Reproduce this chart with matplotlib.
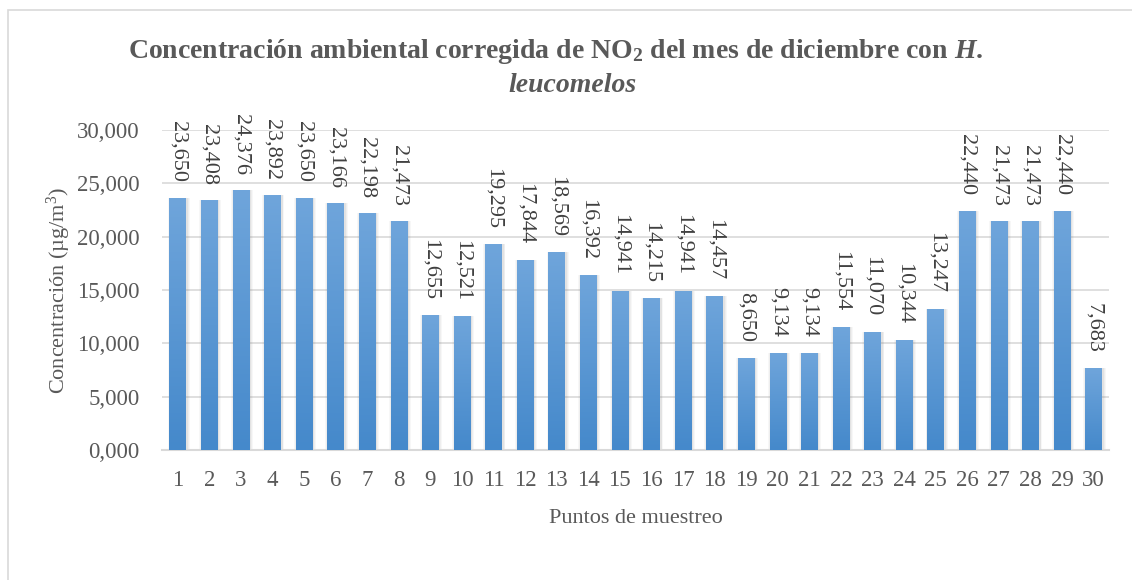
import numpy as np
import matplotlib.pyplot as plt
from matplotlib.colors import LinearSegmentedColormap
from matplotlib.patches import Rectangle

plt.rcParams['font.family'] = ['Liberation Serif', 'DejaVu Serif']
plt.rcParams['mathtext.fontset'] = 'custom'
plt.rcParams['mathtext.rm'] = 'Liberation Serif:bold'
plt.rcParams['mathtext.it'] = 'Liberation Serif:bold:italic'
plt.rcParams['mathtext.bf'] = 'Liberation Serif:bold'

puntos = [str(i) for i in range(1, 31)]
concentracion = [23.650, 23.408, 24.376, 23.892, 23.650, 23.166, 22.198, 21.473,
                 12.655, 12.521, 19.295, 17.844, 18.569, 16.392, 14.941, 14.215,
                 14.941, 14.457, 8.650, 9.134, 9.134, 11.554, 11.070, 10.344,
                 13.247, 22.440, 21.473, 21.473, 22.440, 7.683]
yticks = [0, 5, 10, 15, 20, 25, 30]

txt = '#595959'
fig = plt.figure(figsize=(11.32, 5.8), dpi=100)
fig.patches.append(Rectangle((8 / 1132, -0.05), 1.2, 1 - 10 / 580 + 0.05,
                             transform=fig.transFigure, fill=False,
                             edgecolor='#D9D9D9', linewidth=1.2))
ax = fig.add_axes([0.143, 0.224, 0.837, 0.552])

x = np.arange(len(concentracion))
w = 0.52
# sombra
for k, a in enumerate([0.10, 0.08, 0.06]):
    ax.bar(x + 0.03, concentracion, width=w + 0.06 * (k + 1), color='#808080',
           alpha=a, zorder=2, linewidth=0)
bars = ax.bar(x, concentracion, width=w, color='#5B9BD5', zorder=3, linewidth=0)

cmap = LinearSegmentedColormap.from_list('g', ['#4589CB', '#6FA5DB'])
grad = np.linspace(0, 1, 100).reshape(-1, 1)
for b in bars:
    x0, h = b.get_x(), b.get_height()
    im = ax.imshow(grad, cmap=cmap, origin='lower', aspect='auto',
                   extent=[x0, x0 + b.get_width(), 0, h], zorder=4)
    im.set_clip_path(b)
    ax.annotate(f"{h:.3f}".replace('.', ','), (x0 + b.get_width() / 2, h),
                xytext=(0, 11), textcoords='offset points', rotation=-90,
                ha='center', va='bottom', fontsize=16, color='#404040',
                zorder=5)

ax.set_xlim(-0.5, len(concentracion) - 0.5)
ax.set_ylim(0, 30)
ax.set_xticks(x)
ax.set_xticklabels(puntos)
ax.set_yticks(yticks)
ax.set_yticklabels([f"{v:.3f}".replace('.', ',') for v in yticks])
ax.tick_params(length=0, labelsize=16.5, colors=txt)
ax.tick_params(axis='x', pad=14)
ax.tick_params(axis='y', pad=16)
ax.grid(axis='y', color='#D9D9D9', linewidth=1.2, zorder=0)
ax.set_axisbelow(True)
for s in ['top', 'right', 'left']:
    ax.spines[s].set_visible(False)
ax.spines['bottom'].set_color('#D9D9D9')
ax.spines['bottom'].set_linewidth(1.5)

ax.set_xlabel('Puntos de muestreo', fontsize=16, color=txt, labelpad=13)
ax.set_ylabel('Concentración (µg/m$^{\\mathregular{3}}$)', fontsize=16,
              color=txt, labelpad=3)

fig.text(0.491, 1 - 52 / 580,
         r'Concentración ambiental corregida de NO$_{2}$ del mes de diciembre con $\mathit{H.}$',
         ha='center', va='center', fontsize=20, fontweight='bold', color=txt)
fig.text(0.506, 1 - 86 / 580, 'leucomelos', ha='center', va='center',
         fontsize=20, fontweight='bold', style='italic', color=txt)

fig.savefig('out.png', dpi=100)
